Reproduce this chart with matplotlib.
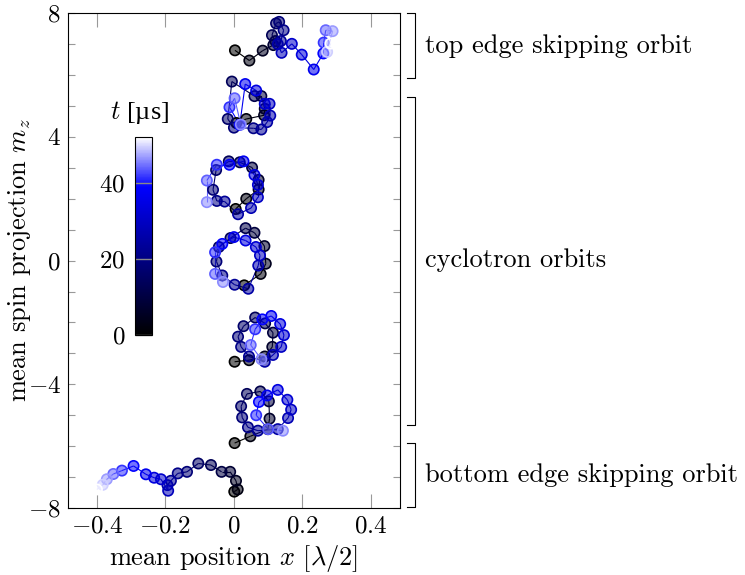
import numpy as np
import matplotlib
matplotlib.use("Agg")
import matplotlib.pyplot as plt
import matplotlib.transforms as mtransforms
from matplotlib.colors import LinearSegmentedColormap, Normalize
from matplotlib.collections import LineCollection
from matplotlib.cm import ScalarMappable

plt.rcParams["font.family"] = ["cmr10", "DejaVu Serif"]
plt.rcParams["mathtext.fontset"] = "cm"
plt.rcParams["axes.formatter.use_mathtext"] = True
plt.rcParams["font.size"] = 19

# sample times (µs): edge orbits run to the end, cyclotron ones stop a bit earlier
t_edge = [0, 2.6, 5.2, 7.8, 10.4, 13, 15.6, 18.2, 20.8, 23.4, 26,
          28.6, 31.2, 33.8, 36.4, 39, 41.6, 44.2, 46.8, 49.4, 52]
t_cyc = [0, 2.3, 4.6, 6.9, 9.2, 11.5, 13.8, 16.1, 18.4, 20.7, 23,
         25.3, 27.6, 29.9, 32.2, 34.5, 36.8, 39.1, 41.4, 43.7, 46]

# top edge skipping orbit
top_x = [0.003, 0.045, 0.084, 0.115, 0.121, 0.111, 0.123, 0.132, 0.145, 0.137, 0.128,
         0.139, 0.169, 0.198, 0.233, 0.261, 0.262, 0.268, 0.288, 0.272, 0.282]
top_y = [6.80, 6.47, 6.79, 6.97, 7.10, 7.29, 7.67, 7.72, 7.45, 7.10, 7.00,
         6.72, 7.01, 6.66, 6.18, 6.70, 7.05, 7.45, 7.42, 6.75, 7.02]

# cyclotron orbits, top to bottom
cyc1_x = [0.007, 0.036, 0.088, 0.090, 0.080, 0.060, -0.006, -0.018, 0.000, 0.057, 0.080,
          0.097, 0.106, 0.104, 0.090, 0.065, 0.033, 0.017, -0.013, 0.002, 0.020]
cyc1_y = [4.45, 4.58, 4.70, 4.91, 5.32, 5.32, 5.79, 4.58, 4.30, 4.28, 4.24,
          4.48, 4.69, 5.07, 5.07, 5.50, 5.71, 4.39, 4.96, 5.25, 4.40]

cyc2_x = [0.005, 0.036, 0.072, 0.072, 0.053, 0.017, -0.015, -0.052, -0.061, -0.050, -0.027,
          0.012, 0.050, 0.070, 0.070, 0.060, 0.028, -0.013, -0.050, -0.079, -0.079]
cyc2_y = [1.67, 2.00, 2.30, 2.61, 3.01, 3.18, 3.21, 2.93, 2.29, 1.93, 1.91,
          1.50, 1.70, 2.05, 2.45, 2.77, 3.21, 3.10, 3.10, 2.59, 1.89]

cyc3_x = [0.030, 0.078, 0.093, 0.089, 0.060, 0.034, -0.010, -0.044, -0.051, -0.034, 0.002,
          0.042, 0.071, 0.076, 0.064, 0.034, 0.000, -0.034, -0.055, -0.055, -0.032]
cyc3_y = [-0.80, -0.43, -0.10, 0.47, 0.90, 1.05, 0.73, 0.44, -0.03, -0.48, -0.78,
          -0.91, -0.16, 0.17, 0.44, 0.65, 0.76, 0.54, 0.27, -0.43, -0.69]

cyc4_x = [0.002, 0.044, 0.090, 0.112, 0.114, 0.091, 0.062, 0.028, 0.012, 0.021, 0.044,
          0.090, 0.114, 0.138, 0.146, 0.135, 0.109, 0.083, 0.062, 0.049, 0.080]
cyc4_y = [-3.27, -3.22, -3.10, -2.79, -2.33, -2.03, -1.84, -2.12, -2.46, -2.79, -3.10,
          -3.27, -3.05, -2.79, -2.41, -2.05, -1.79, -1.90, -2.22, -2.73, -3.19]

cyc5_x = [0.002, 0.048, 0.099, 0.104, 0.102, 0.077, 0.038, 0.021, 0.024, 0.041, 0.070,
          0.128, 0.158, 0.167, 0.156, 0.128, 0.097, 0.073, 0.065, 0.100, 0.143]
cyc5_y = [-5.90, -5.68, -5.45, -5.11, -4.55, -4.23, -4.31, -4.71, -5.07, -5.39, -5.50,
          -5.45, -5.09, -4.82, -4.50, -4.18, -4.36, -4.57, -5.00, -5.45, -5.50]

# bottom edge skipping orbit
bot_x = [0.001, 0.011, 0.006, -0.011, -0.036, -0.067, -0.104, -0.137, -0.164, -0.184, -0.194,
         -0.192, -0.213, -0.233, -0.257, -0.293, -0.327, -0.352, -0.371, -0.383, -0.400]
bot_y = [-7.47, -7.40, -7.12, -6.83, -6.83, -6.61, -6.56, -6.83, -6.88, -7.12, -7.26,
         -7.44, -7.07, -7.02, -6.91, -6.64, -6.79, -6.90, -7.07, -7.25, -7.40]

orbits = [(top_x, top_y, t_edge), (cyc1_x, cyc1_y, t_cyc), (cyc2_x, cyc2_y, t_cyc),
          (cyc3_x, cyc3_y, t_cyc), (cyc4_x, cyc4_y, t_cyc), (cyc5_x, cyc5_y, t_cyc),
          (bot_x, bot_y, t_edge)]

brackets = [(5.9, 8.0, "top edge skipping orbit"),
            (-5.3, 5.3, "cyclotron orbits"),
            (-7.97, -5.9, "bottom edge skipping orbit")]

cmap = LinearSegmentedColormap.from_list("kbw", [(0, "black"), (0.75, "blue"), (1, "white")])
norm = Normalize(0, 52)

fig = plt.figure(figsize=(7.45, 5.75), dpi=100)
ax = fig.add_axes([0.091, 0.1165, 0.446, 0.8605])

for xs, ys, ts in orbits:
    cols = cmap(norm(np.array(ts)))
    face = cols.copy()
    face[:, 3] = 0.55
    pts = np.column_stack([xs, ys])
    segs = np.stack([pts[:-1], pts[1:]], axis=1)
    ax.add_collection(LineCollection(segs, colors=cols[:-1], linewidths=0.8, zorder=2))
    ax.scatter(xs, ys, s=55, facecolors=face, edgecolors=cols, linewidths=1.2, zorder=3)

ax.set_xlim(-0.485, 0.485)
ax.set_ylim(-8, 8)
ax.set_xticks([-0.4, -0.2, 0, 0.2, 0.4])
ax.set_xticklabels(["$-0.4$", "$-0.2$", "$0$", "$0.2$", "$0.4$"])
ax.set_yticks([-8, -4, 0, 4, 8])
ax.set_yticklabels(["$-8$", "$-4$", "$0$", "$4$", "$8$"])
ax.set_yticks(range(-8, 9), minor=True)
ax.tick_params(axis="x", which="major", direction="in", top=True, length=10, width=0.8,
               color="#999999", labelsize=18, pad=5)
ax.tick_params(axis="y", which="both", direction="in", right=True, length=5, width=0.8,
               color="#999999", labelsize=18, pad=5)
ax.set_xlabel(r"mean position $x$ [$\lambda/2$]", labelpad=4)
ax.set_ylabel(r"mean spin projection $m_z$")
ax.yaxis.set_label_coords(-0.105, 0.5)

trans = mtransforms.blended_transform_factory(ax.transAxes, ax.transData)
for lo, hi, label in brackets:
    ax.plot([1.021, 1.045, 1.045, 1.021], [lo, lo, hi, hi], transform=trans,
            color="black", lw=0.8, clip_on=False)
    ax.text(1.075, (lo + hi) / 2, label, transform=trans, va="center", ha="left")

cax = fig.add_axes([0.181, 0.4174, 0.0228, 0.344])
cb = fig.colorbar(ScalarMappable(norm=norm, cmap=cmap), cax=cax)
cb.set_ticks([0, 20, 40])
cb.set_ticklabels(["$0$", "$20$", "$40$"])
cax.yaxis.set_ticks_position("left")
cax.tick_params(direction="in", length=12, width=1, color="#888888", pad=7, labelsize=18)
cb.outline.set_linewidth(0.8)
fig.text(140 / 745, 1 - 113 / 575, "$t$ [µs]", ha="center", va="center",
         family=["Liberation Serif"], fontsize=19)

fig.savefig("out.png", dpi=100)
